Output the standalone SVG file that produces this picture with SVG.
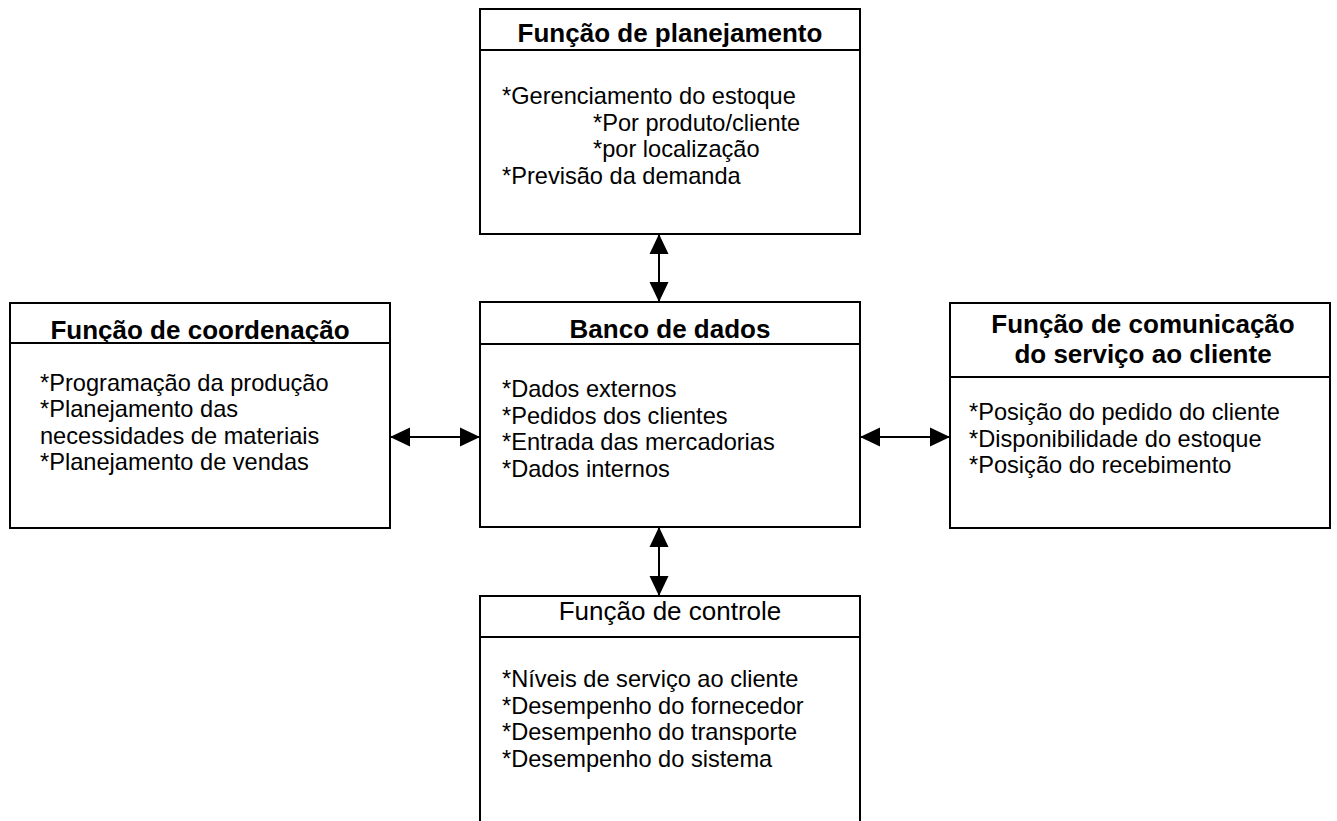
<svg xmlns="http://www.w3.org/2000/svg" width="1337" height="821" viewBox="0 0 1337 821">
<defs>
<style>
.box{fill:#fff;stroke:#000;stroke-width:2}
.sep{stroke:#000;stroke-width:2}
.hd{font-family:"Liberation Sans",Arial,sans-serif;font-size:26px;font-weight:bold;text-anchor:middle;fill:#000}
.hr{font-family:"Liberation Sans",Arial,sans-serif;font-size:26px;text-anchor:middle;fill:#000}
.bd{font-family:"Liberation Sans",Arial,sans-serif;font-size:23.6px;fill:#000}
.cn{stroke:#000;stroke-width:2;fill:none;marker-start:url(#ah);marker-end:url(#ah)}
</style>
<marker id="ah" markerUnits="userSpaceOnUse" markerWidth="20" markerHeight="20" refX="20" refY="10" orient="auto-start-reverse">
<path d="M0,0.5 L20,10 L0,19.5 Z" fill="#000"/>
</marker>
</defs>
<rect width="1337" height="821" fill="#fff"/>
<g id="planejamento">
<rect class="box" x="480" y="9" width="380" height="225"/>
<line class="sep" x1="480" y1="50" x2="860" y2="50"/>
<text class="hd" x="670" y="42">Função de planejamento</text>
<text class="bd" x="502" y="104">*Gerenciamento do estoque</text>
<text class="bd" x="593" y="130.5">*Por produto/cliente</text>
<text class="bd" x="593" y="157">*por localização</text>
<text class="bd" x="502" y="183.5">*Previsão da demanda</text>
</g>
<g id="coordenacao">
<rect class="box" x="10" y="303" width="380" height="225"/>
<line class="sep" x1="10" y1="343" x2="390" y2="343"/>
<text class="hd" x="200" y="339">Função de coordenação</text>
<text class="bd" x="40" y="390.5">*Programação da produção</text>
<text class="bd" x="40" y="417">*Planejamento das</text>
<text class="bd" x="40" y="443.5">necessidades de materiais</text>
<text class="bd" x="40" y="470">*Planejamento de vendas</text>
</g>
<g id="banco">
<rect class="box" x="480" y="302" width="380" height="225"/>
<line class="sep" x1="480" y1="344" x2="860" y2="344"/>
<text class="hd" x="670" y="338">Banco de dados</text>
<text class="bd" x="502" y="397">*Dados externos</text>
<text class="bd" x="502" y="423.5">*Pedidos dos clientes</text>
<text class="bd" x="502" y="450">*Entrada das mercadorias</text>
<text class="bd" x="502" y="476.5">*Dados internos</text>
</g>
<g id="comunicacao">
<rect class="box" x="950" y="303" width="380" height="225"/>
<line class="sep" x1="950" y1="377" x2="1330" y2="377"/>
<text class="hd" x="1143" y="333">Função de comunicação</text>
<text class="hd" x="1143" y="363">do serviço ao cliente</text>
<text class="bd" x="969" y="420">*Posição do pedido do cliente</text>
<text class="bd" x="969" y="446.5">*Disponibilidade do estoque</text>
<text class="bd" x="969" y="473">*Posição do recebimento</text>
</g>
<g id="controle">
<rect class="box" x="480" y="596" width="380" height="240"/>
<line class="sep" x1="480" y1="637" x2="860" y2="637"/>
<text class="hr" x="670" y="620">Função de controle</text>
<text class="bd" x="502" y="687">*Níveis de serviço ao cliente</text>
<text class="bd" x="502" y="713.5">*Desempenho do fornecedor</text>
<text class="bd" x="502" y="740">*Desempenho do transporte</text>
<text class="bd" x="502" y="766.5">*Desempenho do sistema</text>
</g>
<g id="connectors">
<line class="cn" x1="659" y1="234" x2="659" y2="302"/>
<line class="cn" x1="659" y1="527" x2="659" y2="596"/>
<line class="cn" x1="390" y1="437" x2="480" y2="437"/>
<line class="cn" x1="860" y1="437" x2="950" y2="437"/>
</g>
</svg>
